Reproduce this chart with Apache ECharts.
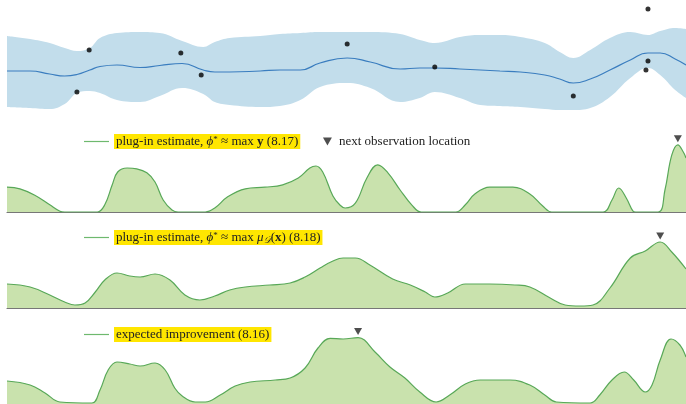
<!DOCTYPE html>
<html>
<head>
<meta charset="utf-8">
<script src="https://cdn.jsdelivr.net/npm/echarts@6/dist/echarts.min.js"></script>
<style>
  html, body { margin: 0; padding: 0; background: #fff; }
  #chart { width: 686px; height: 404px; }
</style>
</head>
<body>
<div id="chart"></div>
<script>
// ---- GP posterior (top row): 95% band, posterior mean and observations ----
const bandX     = [0, 0.34, 0.63, 0.85, 1.03, 1.22, 1.37, 1.62, 1.96, 2.25, 2.58, 2.89, 3.06, 3.28, 3.73, 4.02, 4.32, 4.61, 5.01, 5.35, 5.79, 6.08, 6.30, 6.67, 6.97, 7.26, 7.56, 7.92, 8.14, 8.34, 8.59, 8.88, 9.18, 9.44, 9.62, 9.84, 10];
const bandUpper = [1.2, 1.05, 0.85, 0.6, 0.45, 0.6, 1.1, 1.35, 1.4, 1.35, 0.95, 0.65, 0.9, 1.1, 1.2, 1.3, 1.35, 1.4, 1.4, 1.4, 1.3, 1.0, 0.85, 1.15, 1.25, 1.25, 1.15, 0.85, 0.4, 0.1, 0.5, 1.1, 1.4, 1.25, 1.45, 1.6, 1.55];
const bandLower = [-2.35, -2.4, -2.45, -2.2, -1.65, -1.55, -1.65, -2.0, -2.1, -1.8, -1.4, -1.7, -2.1, -2.25, -2.35, -2.3, -2.0, -1.35, -1.15, -1.4, -2.1, -1.9, -1.6, -1.9, -2.25, -2.3, -2.35, -2.45, -2.5, -2.5, -2.4, -1.85, -0.9, -0.4, -0.75, -1.5, -1.9];
const postMean  = [-0.55, -0.55, -0.7, -0.8, -0.725, -0.5, -0.325, -0.25, -0.375, -0.275, -0.175, -0.5, -0.6, -0.6, -0.55, -0.5, -0.5, -0.15, 0.1, -0.1, -0.45, -0.4, -0.4, -0.45, -0.5, -0.55, -0.6, -0.75, -0.95, -1.15, -0.95, -0.5, 0.0, 0.35, 0.35, 0.05, -0.25];
const obsX = [1.03, 1.21, 2.56, 2.86, 5.01, 6.30, 8.34, 9.41, 9.44, 9.44];
const obsY = [-1.6, 0.5, 0.35, -0.75, 0.8, -0.35, -1.8, -0.5, -0.05, 2.55];

// ---- plug-in estimate, phi* = max y ----
const plugYX = [0, 0.19, 0.41, 0.63, 0.78, 0.85, 1.33, 1.44, 1.55, 1.63, 1.77, 1.91, 2.06, 2.18, 2.30, 2.43, 2.52, 2.92, 3.06, 3.25, 3.51, 3.80, 4.06, 4.29, 4.46, 4.55, 4.65, 4.80, 4.90, 4.98, 5.13, 5.30, 5.46, 5.61, 5.79, 5.96, 6.10, 6.61, 6.75, 6.89, 7.11, 7.45, 7.70, 7.89, 8.02, 8.78, 8.91, 9.01, 9.12, 9.22, 9.26, 9.59, 9.69, 9.79, 9.88, 9.96, 10];
const plugYV = [0.31, 0.29, 0.21, 0.09, 0.01, 0, 0, 0.09, 0.34, 0.5, 0.55, 0.54, 0.49, 0.375, 0.15, 0.025, 0, 0, 0.05, 0.19, 0.29, 0.31, 0.34, 0.425, 0.55, 0.575, 0.5, 0.2, 0.09, 0.05, 0.11, 0.425, 0.59, 0.49, 0.275, 0.09, 0, 0, 0.09, 0.225, 0.31, 0.31, 0.225, 0.075, 0, 0, 0.15, 0.3, 0.175, 0.01, 0, 0, 0.275, 0.71, 0.84, 0.75, 0.675];

// ---- plug-in estimate, phi* = max mu_D(x) ----
const plugMuX = [0, 0.34, 0.63, 0.85, 1.00, 1.15, 1.30, 1.44, 1.62, 1.81, 1.96, 2.18, 2.40, 2.62, 2.84, 3.06, 3.28, 3.51, 3.87, 4.17, 4.39, 4.61, 4.80, 4.95, 5.13, 5.35, 5.68, 5.94, 6.16, 6.30, 6.49, 6.75, 7.11, 7.48, 7.70, 8.00, 8.22, 8.44, 8.63, 8.88, 9.18, 9.40, 9.62, 9.79, 10];
const plugMuV = [0.3, 0.2625, 0.1625, 0.075, 0.0375, 0.0625, 0.2, 0.35, 0.4375, 0.4, 0.3875, 0.425, 0.35, 0.1625, 0.1, 0.15, 0.225, 0.2625, 0.2875, 0.3125, 0.3875, 0.5, 0.5875, 0.625, 0.625, 0.535, 0.3625, 0.2875, 0.2, 0.1375, 0.1875, 0.3, 0.3, 0.2875, 0.2625, 0.125, 0.0375, 0.025, 0.0375, 0.25, 0.625, 0.7125, 0.825, 0.7, 0.4875];

// ---- expected improvement ----
const eiX = [0, 0.34, 0.56, 0.78, 1.25, 1.37, 1.49, 1.62, 1.81, 1.96, 2.18, 2.33, 2.47, 2.58, 2.77, 2.92, 3.14, 3.36, 3.58, 3.95, 4.17, 4.39, 4.58, 4.76, 4.95, 5.17, 5.42, 5.64, 5.86, 6.08, 6.32, 6.52, 6.75, 6.97, 7.41, 7.70, 7.92, 8.09, 8.59, 8.73, 8.91, 9.09, 9.23, 9.40, 9.50, 9.62, 9.78, 9.91, 10];
const eiV = [0.2875, 0.2375, 0.1375, 0.025, 0.0125, 0.175, 0.425, 0.525, 0.5, 0.475, 0.5125, 0.425, 0.2, 0.1, 0.025, 0.025, 0.1125, 0.225, 0.275, 0.3, 0.325, 0.45, 0.7, 0.82, 0.8125, 0.83, 0.65, 0.4625, 0.325, 0.15, 0.025, 0.1125, 0.25, 0.3, 0.3, 0.2375, 0.1125, 0.025, 0.0125, 0.1125, 0.3, 0.4, 0.3, 0.15, 0.2375, 0.55, 0.8125, 0.7375, 0.5875];

// next observation location chosen by each acquisition function
const nextObsX = [9.88, 9.62, 5.17];

const BAND = 'rgb(194,221,235)';
const MEAN = '#3a7dbf';
const GREEN_FILL = 'rgb(201,226,173)';
const GREEN_LINE = 'rgb(88,168,88)';
const LEGEND_LINE = 'rgb(110,185,110)';
const HIGHLIGHT = '#ffe600';
const SERIF = '"Liberation Serif", "DejaVu Serif", serif';
const TRI_DOWN = 'path://M0,0L10,0L5,9Z';

const zip = (xs, ys) => xs.map((x, i) => [x, ys[i]]);
const valueAt = (xs, ys, x) => ys[xs.indexOf(x)];

const acq = [
  { name: 'plug-in estimate (8.17)', xs: plugYX, ys: plugYV },
  { name: 'plug-in estimate (8.18)', xs: plugMuX, ys: plugMuV },
  { name: 'expected improvement (8.16)', xs: eiX, ys: eiV }
];

const gridTops = [5, 132, 228, 324];
const grids = gridTops.map((t, i) => ({ left: 7, right: 0, top: t, height: i === 0 ? 110 : 80 }));

const xAxes = grids.map((g, i) => ({
  type: 'value', gridIndex: i, min: 0, max: 10,
  show: i === 1 || i === 2,
  axisLine: { show: true, lineStyle: { color: '#777', width: 1.2 } },
  axisTick: { show: false }, axisLabel: { show: false }, splitLine: { show: false }
}));
const yAxes = grids.map((g, i) => ({
  type: 'value', gridIndex: i,
  min: i === 0 ? -2.75 : 0, max: i === 0 ? 2.75 : 1,
  show: false, splitLine: { show: false }
}));

// credible band: the upper bound is filled down to the panel floor in blue,
// then the region under the lower bound is painted back with the page colour
const series = [
  {
    type: 'line', xAxisIndex: 0, yAxisIndex: 0, smooth: 0.4, symbol: 'none',
    lineStyle: { width: 0, opacity: 0 }, silent: true, z: 1,
    areaStyle: { color: BAND, opacity: 1, origin: 'start' },
    data: zip(bandX, bandUpper)
  },
  {
    type: 'line', xAxisIndex: 0, yAxisIndex: 0, smooth: 0.4, symbol: 'none',
    lineStyle: { width: 0, opacity: 0 }, silent: true, z: 2,
    areaStyle: { color: '#ffffff', opacity: 1, origin: 'start' },
    data: zip(bandX, bandLower)
  },
  {
    type: 'line', xAxisIndex: 0, yAxisIndex: 0, smooth: 0.5, symbol: 'none', z: 3,
    lineStyle: { color: MEAN, width: 1.2 },
    data: zip(bandX, postMean)
  },
  {
    type: 'scatter', xAxisIndex: 0, yAxisIndex: 0, symbolSize: 5, z: 4,
    itemStyle: { color: '#000' },
    data: zip(obsX, obsY)
  }
];

acq.forEach((a, k) => {
  series.push({
    name: a.name, type: 'line', xAxisIndex: k + 1, yAxisIndex: k + 1,
    smooth: 0.4, symbol: 'none',
    lineStyle: { color: GREEN_LINE, width: 1.2 },
    itemStyle: { color: GREEN_LINE },
    areaStyle: { color: GREEN_FILL, opacity: 1 },
    data: zip(a.xs, a.ys)
  });
  series.push({
    name: 'next observation location', type: 'scatter',
    xAxisIndex: k + 1, yAxisIndex: k + 1,
    symbol: TRI_DOWN, symbolSize: [8, 7], symbolOffset: [0, -6],
    itemStyle: { color: '#222' }, z: 5,
    data: [[nextObsX[k], valueAt(a.xs, a.ys, nextObsX[k])]]
  });
});

const rich = {
  it: { fontStyle: 'italic', fontFamily: SERIF, fontSize: 13 },
  sup: { fontSize: 9, fontFamily: SERIF, verticalAlign: 'top', lineHeight: 10 },
  sub: { fontSize: 9, fontFamily: SERIF, fontStyle: 'italic', verticalAlign: 'bottom', lineHeight: 10 },
  b: { fontWeight: 'bold', fontFamily: SERIF, fontSize: 13 }
};
const labels = {
  'plug-in estimate (8.17)': 'plug-in estimate, {it|ϕ}{sup|*} ≈ max {b|y} (8.17)',
  'plug-in estimate (8.18)': 'plug-in estimate, {it|ϕ}{sup|*} ≈ max {it|μ}{sub|𝒟}({b|x}) (8.18)',
  'expected improvement (8.16)': 'expected improvement (8.16)',
  'next observation location': 'next observation location'
};
const legendText = (bg) => ({
  fontFamily: SERIF, fontSize: 13, color: '#222', lineHeight: 14,
  backgroundColor: bg, padding: [1, 2, 0, 2], rich
});
// legend keys are thin horizontal strokes centred on their labels
const mkLegend = (name, left, centerY, bg, extra) => Object.assign({
  data: [name], left, top: centerY - 7, padding: 0, itemWidth: 25, itemHeight: 1.2,
  icon: 'rect',
  itemStyle: { color: LEGEND_LINE, borderWidth: 0 },
  selectedMode: false, formatter: (n) => labels[n], textStyle: legendText(bg)
}, extra || {});

const option = {
  animation: false,
  grid: grids,
  xAxis: xAxes,
  yAxis: yAxes,
  legend: [
    mkLegend(acq[0].name, 84, 141, HIGHLIGHT),
    mkLegend('next observation location', 323, 141, 'transparent', {
      icon: TRI_DOWN, itemWidth: 9, itemHeight: 8,
      itemStyle: { color: '#222', borderWidth: 0 }
    }),
    mkLegend(acq[1].name, 84, 237, HIGHLIGHT),
    mkLegend(acq[2].name, 84, 334, HIGHLIGHT)
  ],
  series
};

const chart = echarts.init(document.getElementById('chart'), null, { renderer: 'canvas' });
chart.setOption(option);
</script>
</body>
</html>
